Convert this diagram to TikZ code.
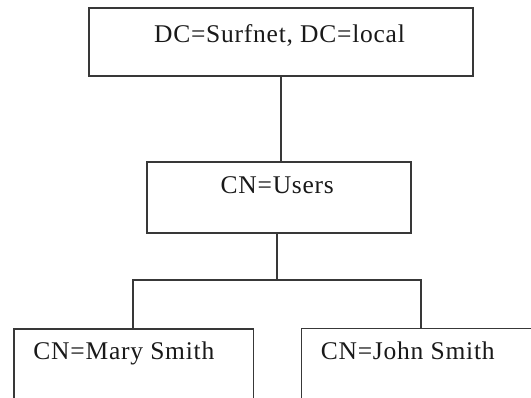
\documentclass[tikz,border=0pt]{standalone}
\usepackage{fontspec}
\setmainfont{Liberation Serif}[LetterSpace=3]
\begin{document}
\begin{tikzpicture}[x=1pt,y=-1pt,
  box/.style={draw=black!78, line width=1.7pt, rectangle, inner sep=0pt, fill=none},
  conn/.style={draw=black!78, line width=1.7pt},
  lbl/.style={inner sep=0pt, font=\fontsize{25.5}{30}\selectfont, text=black!90}]
\path[use as bounding box, clip] (0,0) rectangle (531,398);
% boxes
\node[box, minimum width=384pt, minimum height=68pt] (top) at (280.7,41.7) {};
\node[box, minimum width=264pt, minimum height=71.6pt] (users) at (278.7,197.5) {};
\node[box, minimum width=239.4pt, minimum height=100pt, anchor=north west] (mary) at (13.3,328.3) {};
\node[box, minimum width=239.4pt, minimum height=100pt, anchor=north west] (john) at (300.7,327.7) {};
% texts
\node[lbl, anchor=base] (ttop) at (279.5,43) {DC=Surfnet, DC=local};
\node[lbl, anchor=base] (tusers) at (277.3,194) {CN=Users};
\node[lbl, anchor=base west] (tmary) at (33.3,360) {CN=Mary Smith};
\node[lbl, anchor=base west] (tjohn) at (320.7,360) {CN=John Smith};
% connectors
\coordinate (split) at (277,280);
\coordinate (ml) at (132.7,280);
\coordinate (mr) at (421,280);
\draw[conn] (top.south) -- (top.south |- users.north);
\draw[conn] (split |- users.south) -- (split);
\draw[conn] (ml |- mary.north) -- (ml) -- (mr) -- (mr |- john.north);
\end{tikzpicture}
\end{document}
